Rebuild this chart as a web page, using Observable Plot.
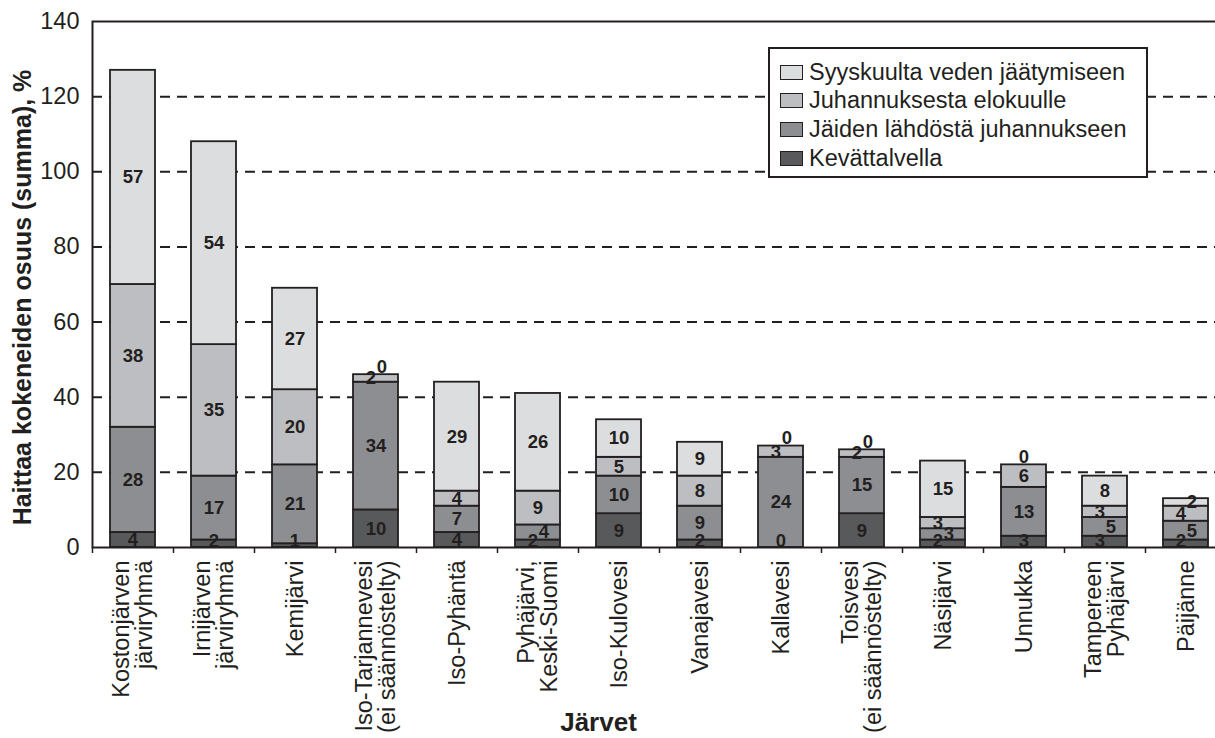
<!DOCTYPE html>
<html lang="fi">
<head>
<meta charset="utf-8">
<script src="https://cdn.jsdelivr.net/npm/d3@7"></script>
<script src="https://cdn.jsdelivr.net/npm/@observablehq/plot@0.6"></script>
<style>
  html, body { margin: 0; padding: 0; background: #fff; overflow: hidden; }
  #wrap { position: relative; width: 1215px; height: 738px; overflow: hidden; }
  #chart svg { max-width: none !important; }
  #legend {
    position: absolute; left: 768px; top: 47px; width: 376px; height: 127px;
    background: #fff; border: 2px solid #231f20;
    font-family: "Liberation Sans", Arial, sans-serif; font-size: 23.5px; color: #231f20;
  }
  #legend .row { position: absolute; left: 10px; height: 28px; display: flex; align-items: center; white-space: nowrap; }
  #legend .sw { width: 21px; height: 13px; border: 1.5px solid #231f20; margin-right: 6px; }
</style>
</head>
<body>
<div id="wrap"><div id="chart"></div><div id="legend"></div></div>
<script>
// Lakes (x categories), multi-line tick labels separated by "\n"
const lakes = [
  "Kostonjärven\njärviryhmä",
  "Irnijärven\njärviryhmä",
  "Kemijärvi",
  "Iso-Tarjannevesi\n(ei säännöstelty)",
  "Iso-Pyhäntä",
  "Pyhäjärvi,\nKeski-Suomi",
  "Iso-Kulovesi",
  "Vanajavesi",
  "Kallavesi",
  "Toisvesi\n(ei säännöstelty)",
  "Näsijärvi",
  "Unnukka",
  "Tampereen\nPyhäjärvi",
  "Päijänne"
];

// Stack order, bottom to top
const series = [
  "Kevättalvella",
  "Jäiden lähdöstä juhannukseen",
  "Juhannuksesta elokuulle",
  "Syyskuulta veden jäätymiseen"
];

// Share of respondents reporting a nuisance (%), per period
const kevattalvella   = [4, 2, 1, 10, 4, 2, 9, 2, 0, 9, 2, 3, 3, 2];
const jaidenLahdosta  = [28, 17, 21, 34, 7, 4, 10, 9, 24, 15, 3, 13, 5, 5];
const juhannuksesta   = [38, 35, 20, 2, 4, 9, 5, 8, 3, 2, 3, 6, 3, 4];
const syyskuulta      = [57, 54, 27, 0, 29, 26, 10, 9, 0, 0, 15, 0, 8, 2];

const yTicks = [0, 20, 40, 60, 80, 100, 120, 140];
const gridValues = [20, 40, 60, 80, 100, 120];
const colors = ["#58595b", "#8d8e91", "#bdbec1", "#dcdddf"];

const yTitle = "Haittaa kokeneiden osuus (summa), %";
const xTitle = "Järvet";

// ---- layout ----
const width = 1240, height = 738;
const marginLeft = 92, marginRight = 14, marginTop = 21, marginBottom = 191;
const step = (width - marginLeft - marginRight) / lakes.length;
const ppu = (height - marginTop - marginBottom) / 140; // px per %
const ink = "#231f20";

const valuesBySeries = [kevattalvella, jaidenLahdosta, juhannuksesta, syyskuulta];

// Long table for the stacked bars
const rows = [];
lakes.forEach((lake, i) => {
  series.forEach((s, k) => rows.push({lake, series: s, value: valuesBySeries[k][i]}));
});

// Value labels: centred in each segment; zero at the top sits above the bar;
// labels crowded together vertically are staggered left/right.
const labels = [];
lakes.forEach((lake, i) => {
  const total = d3.sum(valuesBySeries, v => v[i]);
  let cum = 0;
  const list = [];
  series.forEach((s, k) => {
    const v = valuesBySeries[k][i];
    const y0 = cum, y1 = cum + v;
    cum = y1;
    let y;
    if (v === 0 && y0 > 0 && y1 === total) y = total + 8 / ppu;
    else y = Math.max((y0 + y1) / 2, 6 / ppu);
    list.push({lake, y, text: String(v), shift: 0});
  });
  let run = [list[0]];
  const flush = () => {
    if (run.length > 1) run.forEach((d, j) => d.shift = j % 2 === 0 ? -1 : 1);
  };
  for (let j = 1; j < list.length; j++) {
    if ((list[j].y - list[j - 1].y) * ppu < 17.5) run.push(list[j]);
    else { flush(); run = [list[j]]; }
  }
  flush();
  labels.push(...list);
});

const labelStyle = {x: "lake", y: "y", text: "text", fontSize: 18.5, fontWeight: "bold", fill: ink};

const chart = Plot.plot({
  width, height, marginLeft, marginRight, marginTop, marginBottom,
  style: {fontFamily: "'Liberation Sans', Arial, sans-serif", fontSize: "23.5px", color: ink, background: "transparent", overflow: "visible", maxWidth: "none"},
  x: {domain: lakes, paddingInner: 0.44, paddingOuter: 0.22, axis: null},
  y: {domain: [0, 140], axis: null},
  color: {domain: series, range: colors},
  marks: [
    Plot.ruleY(gridValues, {stroke: ink, strokeWidth: 2, strokeDasharray: "10,7"}),
    Plot.barY(rows, {x: "lake", y: "value", fill: "series", order: series, stroke: ink, strokeWidth: 1.8}),
    Plot.frame({stroke: ink, strokeWidth: 2}),
    Plot.axisY({ticks: yTicks, tickSize: 0, tickPadding: 13, label: null, tickFormat: d => String(d)}),
    Plot.axisX({tickSize: 0, tickPadding: 13, rotate: -90, textAnchor: "end", lineAnchor: "middle", label: null, tickFormat: d => d}),
    Plot.ruleX(lakes, {x: d => d, dx: -step / 2, y1: 0, y2: -6 / ppu, stroke: ink, strokeWidth: 1.5}),
    Plot.text(labels.filter(d => d.shift === 0), {...labelStyle}),
    Plot.text(labels.filter(d => d.shift < 0), {...labelStyle, dx: -5}),
    Plot.text(labels.filter(d => d.shift > 0), {...labelStyle, dx: 6}),
    Plot.text([yTitle], {text: d => d, frameAnchor: "left", textAnchor: "middle", rotate: -90, dx: -70, dy: 13, fontSize: 25, fontWeight: "bold", fill: ink}),
    Plot.text([xTitle], {text: d => d, frameAnchor: "bottom", textAnchor: "middle", dx: -61, dy: 183, fontSize: 26, fontWeight: "bold", fill: ink})
  ]
});
document.getElementById("chart").appendChild(chart);

// Legend: top series first
const legend = document.getElementById("legend");
series.slice().reverse().forEach((s, j) => {
  const k = series.indexOf(s);
  const row = document.createElement("div");
  row.className = "row";
  row.style.top = (9 + j * 28.7) + "px";
  const sw = document.createElement("span");
  sw.className = "sw";
  sw.style.background = colors[k];
  const label = document.createElement("span");
  label.textContent = s;
  row.appendChild(sw);
  row.appendChild(label);
  legend.appendChild(row);
});
</script>
</body>
</html>
